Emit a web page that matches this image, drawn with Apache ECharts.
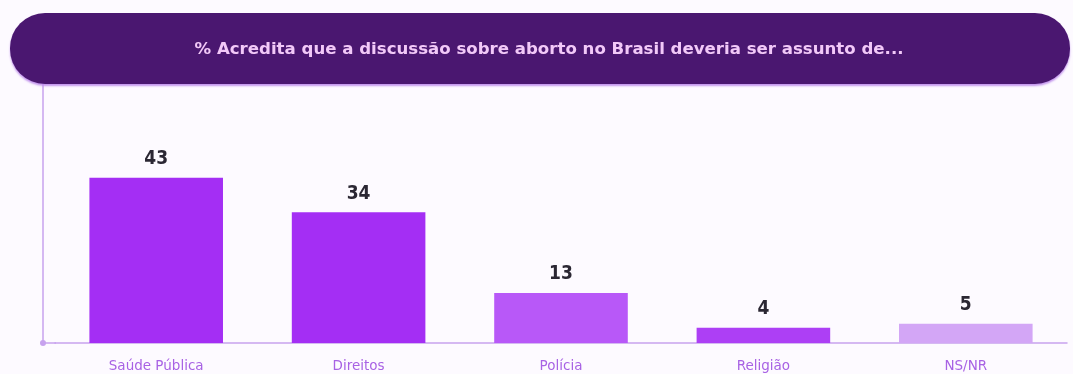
<!DOCTYPE html>
<html>
<head>
<meta charset="utf-8">
<script src="https://cdn.jsdelivr.net/npm/echarts@6/dist/echarts.min.js"></script>
<style>
  html, body { margin: 0; padding: 0; background: #fdfaff; }
  #chart { width: 1073px; height: 374px; }
</style>
</head>
<body>
<div id="chart"></div>
<script>
const categories = ['Saúde Pública', 'Direitos', 'Polícia', 'Religião', 'NS/NR'];
const values = [43, 34, 13, 4, 5];
const barColors = ['#a42ef4', '#a42ef4', '#b858f8', '#ad3ff5', '#d3a6f6'];
const title = '% Acredita que a discussão sobre aborto no Brasil deveria ser assunto de...';

const myChart = echarts.init(document.getElementById('chart'));

const option = {
  backgroundColor: '#fdfaff',
  animation: false,
  grid: {
    left: 55,
    right: 6,
    top: 74,
    bottom: 31
  },
  xAxis: {
    type: 'category',
    data: categories,
    axisLine: {
      lineStyle: {color: '#c7a2ee', width: 1.5}
    },
    axisTick: {show: false},
    axisLabel: {
      color: '#a862e4',
      fontSize: 13.5,
      fontFamily: 'DejaVu Sans, sans-serif',
      margin: 16
    }
  },
  yAxis: {
    type: 'value',
    min: 0,
    max: 70,
    offset: 12,
    splitLine: {show: false},
    axisTick: {show: false},
    axisLabel: {show: false},
    axisLine: {
      show: true,
      symbol: ['circle', 'none'],
      symbolSize: [6, 6],
      lineStyle: {color: '#c7a2ee', width: 1.5}
    }
  },
  series: [{
    type: 'bar',
    barCategoryGap: '34%',
    data: values.map((v, i) => ({value: v, itemStyle: {color: barColors[i]}})),
    label: {
      show: true,
      position: 'top',
      distance: 9,
      color: '#2b2733',
      fontSize: 19,
      fontWeight: 'bold',
      fontFamily: 'DejaVu Sans Condensed, sans-serif'
    }
  }],
  graphic: [{
    // x axis line runs left up to the y axis
    type: 'line',
    z: 5,
    shape: {x1: 43, y1: 343, x2: 56, y2: 343},
    style: {stroke: '#c7a2ee', lineWidth: 1.5}
  }, {
    type: 'rect',
    z: 100,
    shape: {x: 10, y: 13, width: 1060, height: 71, r: 35},
    style: {
      fill: '#4a1770',
      shadowColor: 'rgba(190,140,235,0.9)',
      shadowBlur: 2,
      shadowOffsetY: 2
    }
  }, {
    type: 'text',
    z: 101,
    x: 549,
    y: 50,
    style: {
      text: title,
      fill: '#f2c9f8',
      fontSize: 16.6,
      fontWeight: 'bold',
      fontFamily: 'DejaVu Sans, sans-serif',
      align: 'center',
      verticalAlign: 'middle'
    }
  }]
};

myChart.setOption(option);
</script>
</body>
</html>
